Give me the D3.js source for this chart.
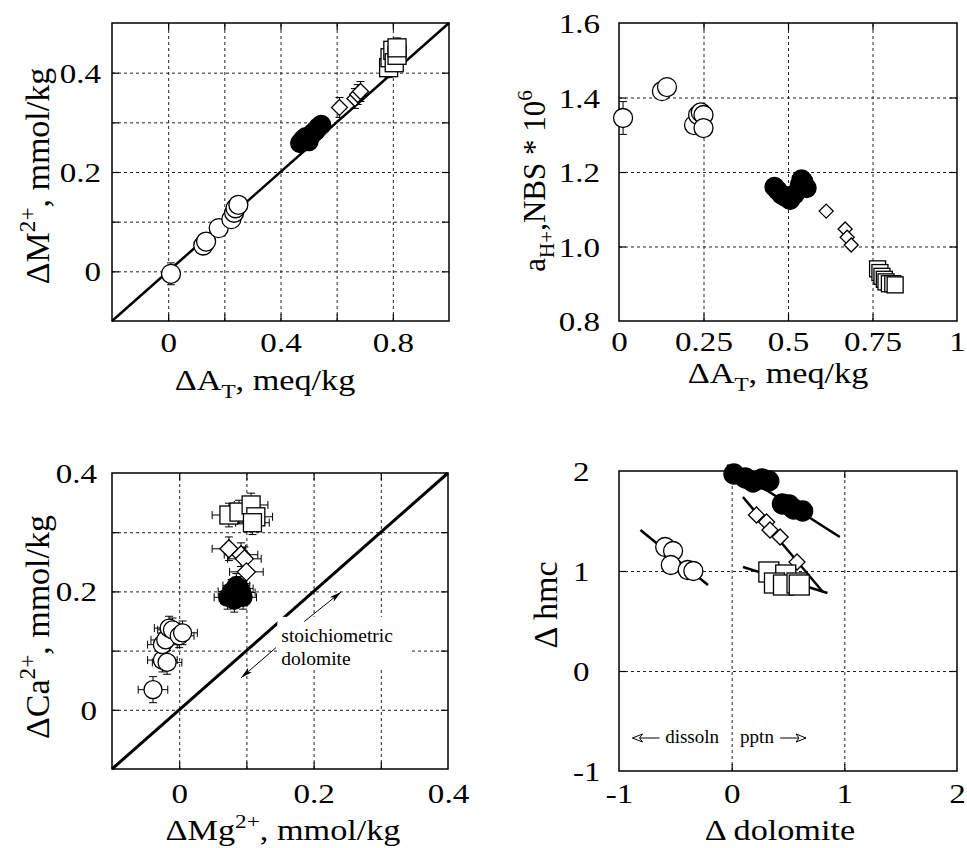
<!DOCTYPE html>
<html>
<head>
<meta charset="utf-8">
<script src="https://cdn.jsdelivr.net/npm/d3@7"></script>
<style>
  body { margin: 0; background: #fff; }
  svg { display: block; font-family: "Liberation Serif", "Times New Roman", serif; }
</style>
</head>
<body>
<svg id="chart" width="967" height="848"></svg>
<script>
// ---- data: each point is [x, y, xErr, yErr] ----

// panel 1: dM2+ vs dAT
const p1Open = [[0.01, -0.005, 0, 0.022], [0.125, 0.052, 0, 0.015], [0.135, 0.060, 0, 0.015],
    [0.18, 0.087, 0, 0.015], [0.225, 0.105, 0, 0.015], [0.235, 0.118, 0, 0.015],
    [0.24, 0.127, 0, 0.015], [0.25, 0.134, 0, 0.015]];
const p1Filled = [[0.47, 0.258, 0, 0.015], [0.48, 0.265, 0, 0.015], [0.49, 0.27, 0, 0.015],
    [0.50, 0.262, 0, 0.015], [0.505, 0.272, 0, 0.015], [0.515, 0.278, 0, 0.015],
    [0.525, 0.283, 0, 0.015], [0.535, 0.29, 0, 0.015], [0.545, 0.295, 0, 0.015]];
const p1Diamond = [[0.61, 0.33, 0, 0.02], [0.665, 0.348, 0, 0.02], [0.675, 0.356, 0, 0.02], [0.685, 0.362, 0, 0.02]];
const p1Square = [[0.785, 0.41, 0, 0.02], [0.79, 0.43, 0, 0.02], [0.80, 0.445, 0, 0.02],
    [0.805, 0.42, 0, 0.02], [0.815, 0.435, 0, 0.02], [0.815, 0.45, 0, 0.02]];
const p1Line = [[-0.2, -0.1], [1.0, 0.5]];
const p1XTicks = [0, 0.2, 0.4, 0.6, 0.8];
const p1XLabels = ["0", "", "0.4", "", "0.8"];
const p1YTicks = [0, 0.1, 0.2, 0.3, 0.4];
const p1YLabels = ["0", "", "0.2", "", "0.4"];

// panel 2: aH+ vs dAT
const p2Open = [[0.012, 1.345, 0, 0.044], [0.127, 1.417, 0, 0], [0.142, 1.428, 0, 0],
    [0.222, 1.326, 0, 0], [0.234, 1.353, 0, 0], [0.242, 1.36, 0, 0], [0.25, 1.353, 0, 0], [0.25, 1.318, 0, 0]];
const p2Filled = [[0.46, 1.16, 0, 0], [0.47, 1.15, 0, 0], [0.48, 1.14, 0, 0], [0.49, 1.135, 0, 0],
    [0.5, 1.13, 0, 0], [0.506, 1.125, 0, 0], [0.52, 1.14, 0, 0], [0.535, 1.165, 0, 0],
    [0.545, 1.175, 0, 0], [0.555, 1.157, 0, 0], [0.54, 1.18, 0, 0]];
const p2Diamond = [[0.613, 1.095, 0, 0], [0.669, 1.047, 0, 0], [0.675, 1.025, 0, 0], [0.687, 1.004, 0, 0]];
const p2Square = [[0.765, 0.94, 0, 0], [0.772, 0.93, 0, 0], [0.778, 0.92, 0, 0], [0.785, 0.912, 0, 0],
    [0.79, 0.905, 0, 0], [0.80, 0.9, 0, 0], [0.81, 0.9, 0, 0], [0.817, 0.897, 0, 0]];
const p2XTicks = [0, 0.25, 0.5, 0.75, 1];
const p2XLabels = ["0", "0.25", "0.5", "0.75", "1"];
const p2YTicks = [0.8, 1.0, 1.2, 1.4, 1.6];
const p2YLabels = ["0.8", "1.0", "1.2", "1.4", "1.6"];

// panel 3: dCa2+ vs dMg2+
const p3Open = [[-0.039, 0.034, 0.022, 0.022], [-0.025, 0.084, 0.022, 0.02], [-0.018, 0.080, 0.022, 0.02],
    [-0.025, 0.11, 0.022, 0.02], [-0.02, 0.118, 0.022, 0.02], [-0.015, 0.138, 0.022, 0.02],
    [-0.01, 0.135, 0.022, 0.02], [0.0, 0.125, 0.022, 0.02], [0.005, 0.13, 0.022, 0.02]];
const p3Filled = [[0.072, 0.19, 0.02, 0.02], [0.078, 0.2, 0.02, 0.02], [0.082, 0.185, 0.02, 0.02],
    [0.086, 0.195, 0.02, 0.02], [0.09, 0.205, 0.02, 0.02], [0.093, 0.198, 0.02, 0.02],
    [0.085, 0.21, 0.02, 0.02], [0.095, 0.19, 0.02, 0.02]];
const p3Diamond = [[0.074, 0.272, 0.025, 0.02], [0.092, 0.262, 0.025, 0.02], [0.097, 0.255, 0.025, 0.02], [0.1, 0.233, 0.025, 0.02]];
const p3Square = [[0.074, 0.329, 0.025, 0.02], [0.089, 0.334, 0.025, 0.02], [0.107, 0.346, 0.025, 0.02],
    [0.114, 0.326, 0.025, 0.02], [0.109, 0.316, 0.025, 0.02]];
const p3Line = [[-0.1, -0.1], [0.4, 0.4]];
const p3XTicks = [0, 0.1, 0.2, 0.3, 0.4];
const p3XLabels = ["0", "", "0.2", "", "0.4"];
const p3YTicks = [0, 0.1, 0.2, 0.3, 0.4];
const p3YLabels = ["0", "", "0.2", "", "0.4"];

// panel 4: d hmc vs d dolomite
const p4Open = [[-0.59, 1.24, 0, 0], [-0.52, 1.2, 0, 0], [-0.54, 1.06, 0, 0], [-0.39, 1.01, 0, 0], [-0.34, 1.0, 0, 0]];
const p4Filled = [[0.02, 1.97, 0, 0], [0.12, 1.93, 0, 0], [0.19, 1.89, 0, 0], [0.27, 1.92, 0, 0], [0.33, 1.9, 0, 0],
    [0.45, 1.67, 0, 0], [0.51, 1.66, 0, 0], [0.55, 1.62, 0, 0], [0.63, 1.6, 0, 0]];
const p4Diamond = [[0.22, 1.56, 0, 0], [0.31, 1.49, 0, 0], [0.34, 1.41, 0, 0], [0.43, 1.34, 0, 0], [0.58, 1.09, 0, 0]];
const p4Square = [[0.33, 0.99, 0, 0], [0.48, 0.96, 0, 0], [0.38, 0.88, 0, 0], [0.46, 0.86, 0, 0], [0.58, 0.88, 0, 0], [0.6, 0.86, 0, 0]];
const p4FitOpen = [[-0.81, 1.41], [-0.21, 0.86]];
const p4FitFilled = [[-0.04, 2.06], [0.96, 1.34]];
const p4FitDiamond = [[0.1, 1.74], [0.81, 0.79]];
const p4FitSquare = [[0.1, 1.04], [0.85, 0.78]];
const p4XTicks = [-1, 0, 1, 2];
const p4XLabels = ["-1", "0", "1", "2"];
const p4YTicks = [-1, 0, 1, 2];
const p4YLabels = ["-1", "0", "1", "2"];

const svg = d3.select("#chart");
const SX = 1.18;       // the figure's lettering is a little wide
const TICK_FS = 28;
const TITLE_FS = 29;
const YTITLE_FS = 34;

svg.append("defs").call(defs => {
    defs.append("marker").attr("id", "solidHead")
        .attr("viewBox", "0 0 12 6").attr("refX", 12).attr("refY", 3)
        .attr("markerWidth", 12).attr("markerHeight", 6)
        .attr("markerUnits", "userSpaceOnUse").attr("orient", "auto")
        .append("path").attr("d", "M0,0 L12,3 L0,6 L3,3 Z").attr("fill", "#000");
    defs.append("marker").attr("id", "openHead")
        .attr("viewBox", "0 0 12 10").attr("refX", 11).attr("refY", 5)
        .attr("markerWidth", 12).attr("markerHeight", 10)
        .attr("markerUnits", "userSpaceOnUse").attr("orient", "auto")
        .append("path").attr("d", "M1,1 L11,5 L1,9 L4,5 Z")
        .attr("fill", "#fff").attr("stroke", "#000").attr("stroke-width", 1);
});

function makePanel(cfg) {
    const w = cfg.right - cfg.left, h = cfg.bottom - cfg.top;
    const g = svg.append("g").attr("transform", `translate(${cfg.left},${cfg.top})`);
    const x = d3.scaleLinear().domain(cfg.xDomain).range([0, w]);
    const y = d3.scaleLinear().domain(cfg.yDomain).range([h, 0]);
    const inside = (v, dom) => v > dom[0] + 1e-9 && v < dom[1] - 1e-9;
    const xIn = cfg.xTicks.filter(v => inside(v, cfg.xDomain));
    const yIn = cfg.yTicks.filter(v => inside(v, cfg.yDomain));

    // dashed grid
    g.append("g").attr("transform", `translate(0,${h})`)
        .call(d3.axisBottom(x).tickValues(xIn).tickSize(-h).tickFormat(""))
        .call(a => a.select(".domain").remove());
    g.append("g")
        .call(d3.axisLeft(y).tickValues(yIn).tickSize(-w).tickFormat(""))
        .call(a => a.select(".domain").remove());
    g.selectAll(".tick line").attr("stroke", "#222").attr("stroke-width", 1).attr("stroke-dasharray", "3,3");

    // frame
    g.append("rect").attr("width", w).attr("height", h)
        .attr("fill", "none").attr("stroke", "#000").attr("stroke-width", 1.5);

    const labelOf = (ticks, labels) => d => {
        const i = ticks.findIndex(t => Math.abs(t - d) < 1e-9);
        return i < 0 ? "" : labels[i];
    };

    // inward tick marks, labels on bottom and left
    const bottom = g.append("g").attr("transform", `translate(0,${h})`)
        .call(d3.axisBottom(x).tickValues(cfg.xTicks).tickSizeInner(-7).tickSizeOuter(0)
            .tickFormat(labelOf(cfg.xTicks, cfg.xLabels)));
    const left = g.append("g")
        .call(d3.axisLeft(y).tickValues(cfg.yTicks).tickSizeInner(-7).tickSizeOuter(0)
            .tickFormat(labelOf(cfg.yTicks, cfg.yLabels)));
    g.append("g")
        .call(d3.axisTop(x).tickValues(xIn).tickSizeInner(-7).tickSizeOuter(0).tickFormat(""));
    g.append("g").attr("transform", `translate(${w},0)`)
        .call(d3.axisRight(y).tickValues(yIn).tickSizeInner(-7).tickSizeOuter(0).tickFormat(""));

    [bottom, left].forEach(a => a.attr("font-size", null).attr("font-family", null));
    g.selectAll(".domain").filter(function () { return this.parentNode !== g.node(); }).remove();
    g.selectAll("g > g.tick > line").filter(function () {
        return this.getAttribute("stroke-dasharray") == null;
    }).attr("stroke", "#000").attr("stroke-width", 1.2);
    // hide tick marks sitting on the frame edges
    bottom.selectAll(".tick").filter(d => !inside(d, cfg.xDomain)).select("line").remove();
    left.selectAll(".tick").filter(d => !inside(d, cfg.yDomain)).select("line").remove();

    bottom.selectAll("text")
        .attr("y", cfg.xLabelOffset).attr("dy", 0)
        .attr("transform", `scale(${SX},1)`)
        .style("font-size", TICK_FS + "px").attr("fill", "#000");
    left.selectAll("text")
        .attr("x", cfg.yLabelX / SX).attr("dy", "0.34em")
        .attr("text-anchor", cfg.yLabelAnchor || "end")
        .attr("transform", `scale(${SX},1)`)
        .style("font-size", TICK_FS + "px").attr("fill", "#000");

    return { g, x, y, w, h };
}

// text with sub/superscript pieces: [text, "sub"|"sup"|""]
function richText(parent, parts, size) {
    const t = parent.append("text").attr("text-anchor", "middle").attr("fill", "#000")
        .style("font-size", size + "px");
    let shift = 0;
    parts.forEach(([s, kind]) => {
        const want = kind === "sub" ? 0.28 * size : kind === "sup" ? -0.42 * size : 0;
        t.append("tspan").attr("dy", want - shift)
            .style("font-size", kind ? (0.68 * size) + "px" : null)
            .text(s);
        shift = want;
    });
    return t;
}

function xTitle(parts, cx, by) {
    richText(svg, parts, TITLE_FS).attr("transform", `translate(${cx},${by}) scale(${SX},1)`);
}
function yTitle(parts, bx, cy, size) {
    richText(svg, parts, size || YTITLE_FS).attr("transform", `translate(${bx},${cy}) rotate(-90)`);
}

function drawSeries(p, pts, shape, size, filled) {
    const g = p.g.append("g");
    const bars = g.append("g").attr("stroke", "#000").attr("stroke-width", 1);
    const cap = 4;
    pts.filter(d => d[3] > 0).forEach(d => {
        const cx = p.x(d[0]), y0 = p.y(d[1] - d[3]), y1 = p.y(d[1] + d[3]);
        bars.append("line").attr("x1", cx).attr("x2", cx).attr("y1", y0).attr("y2", y1);
        bars.append("line").attr("x1", cx - cap).attr("x2", cx + cap).attr("y1", y0).attr("y2", y0);
        bars.append("line").attr("x1", cx - cap).attr("x2", cx + cap).attr("y1", y1).attr("y2", y1);
    });
    pts.filter(d => d[2] > 0).forEach(d => {
        const cy = p.y(d[1]), x0 = p.x(d[0] - d[2]), x1 = p.x(d[0] + d[2]);
        bars.append("line").attr("x1", x0).attr("x2", x1).attr("y1", cy).attr("y2", cy);
        bars.append("line").attr("x1", x0).attr("x2", x0).attr("y1", cy - cap).attr("y2", cy + cap);
        bars.append("line").attr("x1", x1).attr("x2", x1).attr("y1", cy - cap).attr("y2", cy + cap);
    });
    const fill = filled ? "#000" : "#fff";
    let marks;
    if (shape === "circle") {
        marks = g.selectAll("circle").data(pts).join("circle")
            .attr("cx", d => p.x(d[0])).attr("cy", d => p.y(d[1])).attr("r", size);
    } else if (shape === "square") {
        marks = g.selectAll("rect").data(pts).join("rect")
            .attr("x", d => p.x(d[0]) - size).attr("y", d => p.y(d[1]) - size)
            .attr("width", 2 * size).attr("height", 2 * size);
    } else {
        marks = g.selectAll("path").data(pts).join("path")
            .attr("d", d => {
                const cx = p.x(d[0]), cy = p.y(d[1]);
                return `M${cx},${cy - size}L${cx + size},${cy}L${cx},${cy + size}L${cx - size},${cy}Z`;
            });
    }
    marks.attr("fill", fill).attr("stroke", "#000").attr("stroke-width", 1.3);
}

function drawLine(p, pts, width) {
    p.g.append("path").datum(pts)
        .attr("d", d3.line().x(d => p.x(d[0])).y(d => p.y(d[1])))
        .attr("fill", "none").attr("stroke", "#000").attr("stroke-width", width);
}

// ---- panel 1 ----
const P1 = makePanel({ left: 112, top: 23, right: 449, bottom: 321,
    xDomain: [-0.2, 1.0], yDomain: [-0.1, 0.5],
    xTicks: p1XTicks, xLabels: p1XLabels, yTicks: p1YTicks, yLabels: p1YLabels,
    xLabelOffset: 31, yLabelX: -11 });
drawLine(P1, p1Line, 2.5);
drawSeries(P1, p1Open, "circle", 9.5, false);
drawSeries(P1, p1Filled, "circle", 9.5, true);
drawSeries(P1, p1Diamond, "diamond", 8, false);
drawSeries(P1, p1Square, "square", 9, false);
xTitle([["ΔA", ""], ["T", "sub"], [", meq/kg", ""]], 265, 390);
yTitle([["ΔM", ""], ["2+", "sup"], [", mmol/kg", ""]], 49, 176);

// ---- panel 2 ----
const P2 = makePanel({ left: 619, top: 23, right: 957, bottom: 321,
    xDomain: [0, 1], yDomain: [0.8, 1.6],
    xTicks: p2XTicks, xLabels: p2XLabels, yTicks: p2YTicks, yLabels: p2YLabels,
    xLabelOffset: 30, yLabelX: -19 });
drawSeries(P2, p2Open, "circle", 9.5, false);
drawSeries(P2, p2Filled, "circle", 9.5, true);
drawSeries(P2, p2Diamond, "diamond", 7, false);
drawSeries(P2, p2Square, "square", 8, false);
xTitle([["ΔA", ""], ["T", "sub"], [", meq/kg", ""]], 778, 383);
yTitle([["a", ""], ["H+", "sub"], [",NBS * 10", ""], ["6", "sup"]], 545, 181, 31);

// ---- panel 3 ----
const P3 = makePanel({ left: 112, top: 473, right: 448, bottom: 769,
    xDomain: [-0.1, 0.4], yDomain: [-0.1, 0.4],
    xTicks: p3XTicks, xLabels: p3XLabels, yTicks: p3YTicks, yLabels: p3YLabels,
    xLabelOffset: 34, yLabelX: -15 });
drawLine(P3, p3Line, 3);
// annotation box for "stoichiometric dolomite"
P3.g.append("rect")
    .attr("x", P3.x(0.146)).attr("y", P3.y(0.157))
    .attr("width", P3.x(0.342) - P3.x(0.146)).attr("height", P3.y(0.068) - P3.y(0.157))
    .attr("fill", "#fff");
P3.g.append("line")
    .attr("x1", P3.x(0.186)).attr("y1", P3.y(0.149)).attr("x2", P3.x(0.241)).attr("y2", P3.y(0.199))
    .attr("stroke", "#000").attr("stroke-width", 1).attr("marker-end", "url(#solidHead)");
P3.g.append("line")
    .attr("x1", P3.x(0.144)).attr("y1", P3.y(0.105)).attr("x2", P3.x(0.092)).attr("y2", P3.y(0.054))
    .attr("stroke", "#000").attr("stroke-width", 1).attr("marker-end", "url(#solidHead)");
P3.g.append("text").attr("x", P3.x(0.152)).attr("y", P3.y(0.115))
    .style("font-size", "19.5px").text("stoichiometric");
P3.g.append("text").attr("x", P3.x(0.152)).attr("y", P3.y(0.076))
    .style("font-size", "19.5px").text("dolomite");
drawSeries(P3, p3Open, "circle", 9, false);
drawSeries(P3, p3Filled, "circle", 9, true);
drawSeries(P3, p3Diamond, "diamond", 9, false);
drawSeries(P3, p3Square, "square", 9, false);
xTitle([["ΔMg", ""], ["2+", "sup"], [", mmol/kg", ""]], 283, 840);
yTitle([["ΔCa", ""], ["2+", "sup"], [", mmol/kg", ""]], 49, 627);

// ---- panel 4 ----
const P4 = makePanel({ left: 619, top: 471, right: 957, bottom: 771,
    xDomain: [-1, 2], yDomain: [-1, 2],
    xTicks: p4XTicks, xLabels: p4XLabels, yTicks: p4YTicks, yLabels: p4YLabels,
    xLabelOffset: 32, yLabelX: -46, yLabelAnchor: "start" });
drawLine(P4, p4FitOpen, 2.5);
drawLine(P4, p4FitFilled, 2.5);
drawLine(P4, p4FitDiamond, 2.5);
drawLine(P4, p4FitSquare, 2.5);
drawSeries(P4, p4Open, "circle", 9.5, false);
drawSeries(P4, p4Filled, "circle", 10, true);
drawSeries(P4, p4Diamond, "diamond", 8, false);
drawSeries(P4, p4Square, "square", 10, false);
P4.g.append("line")
    .attr("x1", P4.x(-0.64)).attr("y1", P4.y(-0.67)).attr("x2", P4.x(-0.88)).attr("y2", P4.y(-0.67))
    .attr("stroke", "#000").attr("stroke-width", 1).attr("marker-end", "url(#openHead)");
P4.g.append("text").attr("x", P4.x(-0.59)).attr("y", P4.y(-0.72))
    .style("font-size", "19px").text("dissoln");
P4.g.append("text").attr("x", P4.x(0.075)).attr("y", P4.y(-0.72))
    .style("font-size", "19px").text("pptn");
P4.g.append("line")
    .attr("x1", P4.x(0.43)).attr("y1", P4.y(-0.67)).attr("x2", P4.x(0.66)).attr("y2", P4.y(-0.67))
    .attr("stroke", "#000").attr("stroke-width", 1).attr("marker-end", "url(#openHead)");
xTitle([["Δ dolomite", ""]], 780, 840);
yTitle([["Δ hmc", ""]], 557, 605);
</script>
</body>
</html>
